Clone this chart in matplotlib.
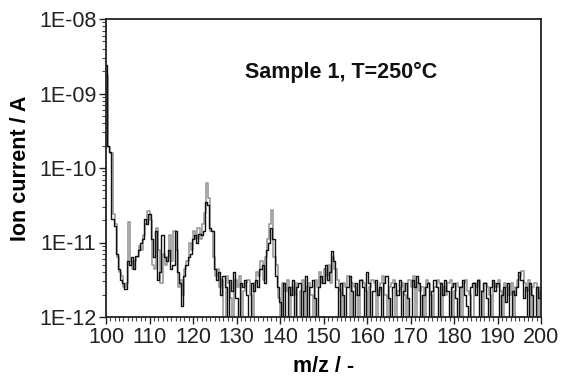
import numpy as np
import matplotlib
matplotlib.use("Agg")
import matplotlib.pyplot as plt
from matplotlib.ticker import FixedLocator, MultipleLocator, FuncFormatter, LogLocator, NullFormatter

plt.rcParams['font.family'] = ['Liberation Sans', 'DejaVu Sans']

# m/z grid: 100 to 200 in steps of 0.5
mz_start = 100.0
mz_stop = 200.0
mz_step = 0.5

# log10 of ion current (A), black trace
black_log10 = [
    -8.62, -9.70, -9.78, -10.68, -10.78, -11.15, -11.35, -11.50, -11.55, -11.62,
    -11.25, -11.30, -11.20, -11.35, -11.18, -11.10, -11.00, -10.95, -10.68, -10.75,
    -10.62, -10.95, -11.20, -10.85, -11.50, -11.40, -10.90, -11.20, -11.25, -11.10,
    -11.35, -11.30, -10.85, -11.40, -11.55, -11.85, -11.45, -11.30, -11.20, -11.15,
    -10.95, -10.90, -11.00, -10.88, -10.90, -10.85, -10.45, -10.50, -10.80, -10.85,
    -11.35, -11.50, -11.40, -11.70, -11.45, -11.60, -12.20, -11.50, -11.65, -11.40,
    -11.75, -12.30, -11.55, -11.60, -11.50, -11.70, -12.20, -11.55, -11.65, -11.50,
    -11.60, -11.35, -11.30, -11.55, -11.10, -11.00, -10.80, -10.95, -11.45, -11.60,
    -11.80, -12.30, -11.55, -12.20, -11.60, -11.70, -11.50, -12.25, -11.60, -11.55,
    -12.20, -11.65, -11.45, -12.30, -11.60, -11.50, -11.75, -12.20, -11.60, -11.45,
    -11.55, -11.30, -11.50, -11.40, -11.12, -11.25, -11.60, -12.25, -11.55, -11.70,
    -12.20, -11.60, -11.45, -11.65, -12.30, -11.55, -11.70, -11.50, -11.60, -12.20,
    -11.40, -11.55, -12.25, -11.65, -11.50, -11.70, -11.60, -12.20, -11.55, -11.45,
    -11.75, -12.30, -11.60, -11.55, -11.70, -11.50, -12.20, -11.65, -11.55, -11.75,
    -12.25, -11.50, -11.60, -11.45, -11.55, -12.20, -11.70, -11.60, -11.55, -12.30,
    -11.65, -11.50, -11.60, -12.20, -11.55, -11.70, -11.50, -11.65, -12.25, -11.60,
    -11.55, -11.75, -12.20, -11.60, -11.50, -11.70, -11.85, -12.30, -11.60, -11.55,
    -11.70, -11.50, -12.20, -11.65, -11.55, -11.75, -12.25, -11.60, -11.50, -11.65,
    -11.55, -12.20, -11.70, -11.60, -11.80, -11.55, -12.30, -11.65, -11.70, -11.60,
    -11.40, -11.50, -11.75, -11.60, -12.20, -11.55, -11.70, -12.25, -11.60, -11.75,
    -11.65,
]

# log10 of ion current (A), grey trace
grey_log10 = [
    -8.75, -9.72, -9.80, -10.62, -10.75, -11.20, -11.40, -11.45, -11.60, -11.55,
    -10.72, -11.25, -11.35, -11.25, -11.20, -11.05, -11.10, -10.90, -10.75, -10.58,
    -10.70, -11.30, -11.35, -10.80, -11.10, -11.55, -11.15, -11.30, -11.20, -10.90,
    -11.25, -10.85, -11.10, -11.60, -11.50, -11.70, -11.35, -11.25, -11.00, -11.10,
    -10.85, -10.95, -10.80, -10.95, -10.75, -10.60, -10.20, -10.40, -10.85, -11.20,
    -11.45, -11.35, -11.60, -11.50, -12.20, -11.45, -11.55, -11.75, -12.25, -11.50,
    -11.60, -11.45, -12.20, -11.65, -11.55, -11.50, -11.70, -12.25, -11.55, -11.40,
    -11.45, -11.25, -11.50, -11.20, -10.95, -10.75, -10.56, -11.20, -11.30, -11.75,
    -12.20, -11.55, -11.65, -11.50, -12.25, -11.60, -11.70, -11.55, -12.20, -11.65,
    -11.50, -12.30, -11.60, -11.55, -11.70, -12.20, -11.50, -11.60, -11.40, -11.55,
    -11.35, -11.45, -11.30, -11.55, -11.20, -11.35, -11.50, -11.65, -12.20, -11.55,
    -11.60, -11.45, -12.25, -11.55, -11.60, -11.70, -12.20, -11.50, -11.55, -11.65,
    -12.30, -11.60, -11.50, -11.55, -12.20, -11.65, -11.55, -11.45, -11.70, -12.25,
    -11.60, -11.55, -11.50, -12.20, -11.65, -11.60, -11.55, -11.70, -12.20, -11.50,
    -11.60, -11.45, -12.25, -11.55, -11.65, -11.60, -12.20, -11.50, -11.55, -11.70,
    -12.30, -11.60, -11.50, -11.55, -12.20, -11.60, -11.70, -11.55, -11.50, -12.25,
    -11.65, -11.55, -11.60, -12.20, -11.55, -11.50, -11.65, -11.70, -12.25, -11.55,
    -11.60, -11.50, -11.65, -12.20, -11.55, -11.60, -11.70, -12.30, -11.55, -11.60,
    -11.50, -11.65, -12.20, -11.55, -11.60, -11.70, -11.55, -12.25, -11.60, -11.50,
    -11.45, -11.38, -11.55, -11.65, -11.50, -12.20, -11.60, -11.55, -12.20, -11.60,
    -11.70,
]

x_ticks = [100, 110, 120, 130, 140, 150, 160, 170, 180, 190, 200]
y_ticks = [1e-12, 1e-11, 1e-10, 1e-9, 1e-8]
y_tick_labels = ["1E-12", "1E-11", "1E-10", "1E-09", "1E-08"]
annotation = "Sample 1, T=250°C"
x_label = "m/z / -"
y_label = "Ion current / A"

mz = np.arange(mz_start, mz_stop + mz_step / 2, mz_step)
black = np.power(10.0, np.array(black_log10))
grey = np.power(10.0, np.array(grey_log10))

fig = plt.figure(figsize=(5.62, 3.82), dpi=100)
ax = fig.add_axes([106 / 562, 1 - 317 / 382, (541 - 106) / 562, (317 - 19) / 382])

ax.plot(mz, grey, color="#9a9a9a", lw=1.2, drawstyle="steps-post")
ax.plot(mz, black, color="#111111", lw=1.0, drawstyle="steps-mid")

ax.set_yscale("log")
ax.set_xlim(100, 200)
ax.set_ylim(1e-12, 1e-8)

ax.xaxis.set_major_locator(FixedLocator(x_ticks))
ax.xaxis.set_minor_locator(MultipleLocator(1))
ax.yaxis.set_major_locator(FixedLocator(y_ticks))
ax.yaxis.set_major_formatter(FuncFormatter(lambda v, p: y_tick_labels[y_ticks.index(min(y_ticks, key=lambda t: abs(np.log10(t) - np.log10(v))))]))
ax.yaxis.set_minor_locator(LogLocator(base=10, subs=np.arange(2, 10)))
ax.yaxis.set_minor_formatter(NullFormatter())

ax.tick_params(axis="both", which="major", direction="out", length=5, width=1,
               labelsize=15.5, colors="#222222", pad=2)
ax.tick_params(axis="both", which="minor", direction="out", length=3, width=0.8, colors="#444444")
ax.tick_params(top=False, right=False, which="both")

for s in ax.spines.values():
    s.set_linewidth(1.3)
    s.set_color("#222222")

ax.set_xlabel(x_label, fontsize=15.5, fontweight="bold", labelpad=6)
ax.set_ylabel(y_label, fontsize=15.5, fontweight="bold", labelpad=6)

ax.text(132.0, 10 ** (-8.72), annotation, fontsize=15.5, fontweight="bold",
        ha="left", va="center", color="#111111")

fig.savefig("out.png", dpi=100)
